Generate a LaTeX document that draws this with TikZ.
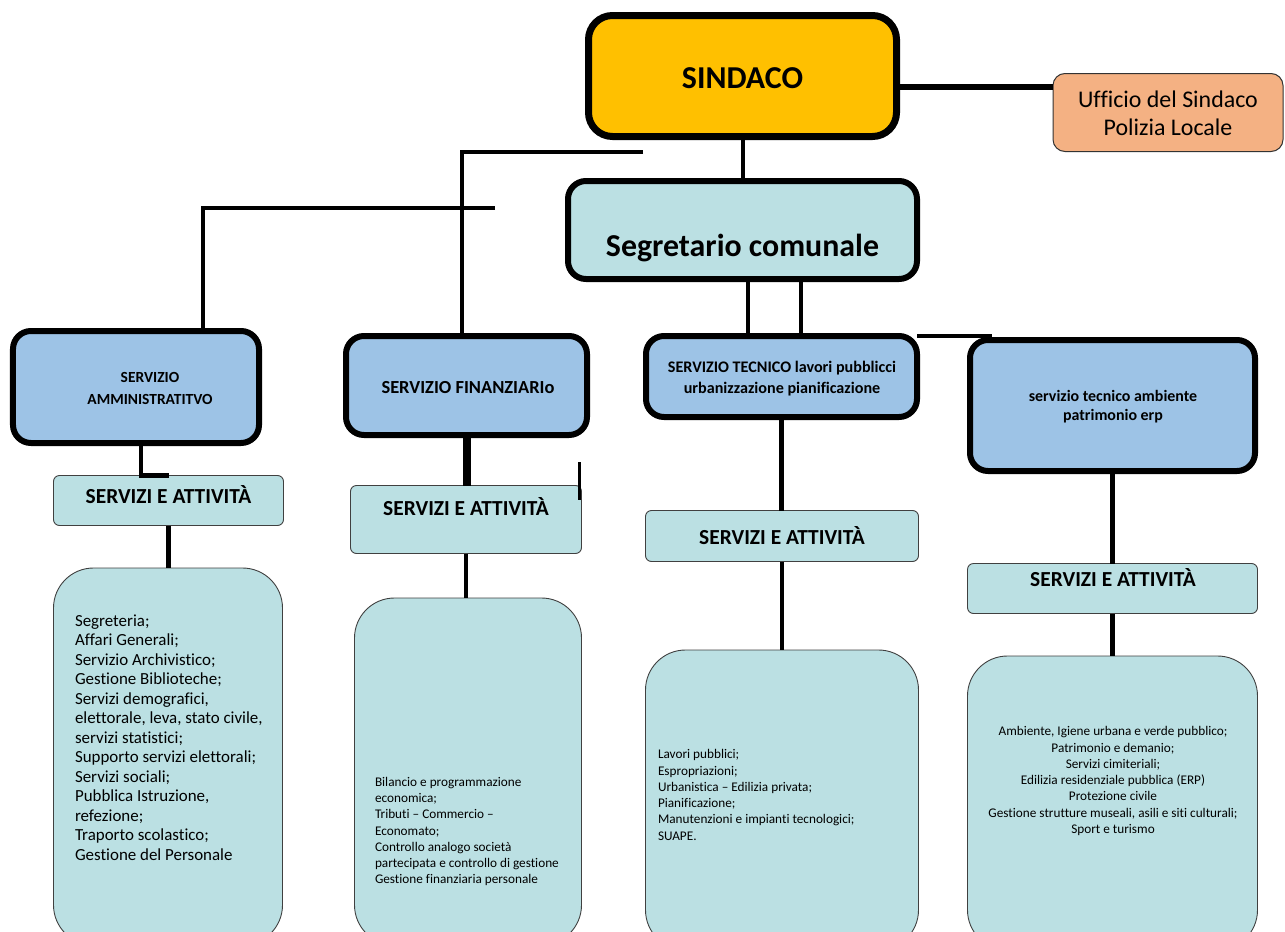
\documentclass[tikz,border=0pt]{standalone}
\usepackage{fontspec}
\setmainfont{Carlito}[Ligatures={NoCommon}]
\usetikzlibrary{calc}
\definecolor{gold}{HTML}{FFC000}
\definecolor{peach}{HTML}{F4B183}
\definecolor{paleteal}{HTML}{BBE0E3}
\definecolor{paleblue}{HTML}{9DC3E6}
\begin{document}
\begin{tikzpicture}[x=1bp,y=-1bp,
  every node/.style={inner sep=0pt,outer sep=0pt},
  heavybox/.style={draw=black,line width=6bp,rounded corners=18bp,fill=paleblue},
  topbox/.style={draw=black,line width=7bp,rounded corners=24bp,fill=gold},
  secbox/.style={draw=black,line width=6bp,rounded corners=18bp,fill=paleteal},
  peachbox/.style={draw=black!80,line width=1bp,rounded corners=12bp,fill=peach},
  seabox/.style={draw=black!75,line width=0.9bp,rounded corners=6bp,fill=paleteal},
  listbox/.style={draw=black!75,line width=0.9bp,rounded corners=40bp,fill=paleteal},
  link/.style={draw=black,line width=4.5bp},
  seatext/.style={font=\bfseries\fontsize{21.5}{25}\selectfont},
  unittext/.style={font=\bfseries\fontsize{15.5}{23}\selectfont,align=center},
  smallunit/.style={font=\bfseries\fontsize{16.2}{21}\selectfont,align=center},
  listtext/.style={font=\fontsize{13.3}{16.3}\selectfont}
]
\useasboundingbox (0,0) rectangle (1285,932);
\clip (0,0) rectangle (1285,932);

% main boxes
\node[topbox,minimum width=308bp,minimum height=121bp] (sindaco) at (742.5,76) {};
\node[font=\bfseries\fontsize{32}{36}\selectfont] (tsindaco) at (742.5,78) {SINDACO};

\node[peachbox,minimum width=230bp,minimum height=78bp] (ufficio) at (1168,112.5) {};
\node[font=\fontsize{24}{28}\selectfont,align=center] (tufficio) at (1168,113) {Ufficio del Sindaco\\Polizia Locale};

\node[secbox,minimum width=349bp,minimum height=98bp] (segretario) at (742.5,230) {};
\node[font=\bfseries\fontsize{32}{36}\selectfont] (tsegretario) at (742.5,248) {Segretario comunale};

% service boxes
\node[heavybox,minimum width=246bp,minimum height=112bp] (admin) at (136,387) {};
\node[unittext] (tadmin) at (150,388.5) {SERVIZIO\\AMMINISTRATITVO};

\node[heavybox,minimum width=241bp,minimum height=99bp] (finanz) at (466.5,385.5) {};
\node[unittext,font=\bfseries\fontsize{18.5}{22}\selectfont] (tfinanz) at (468,388) {SERVIZIO FINANZIARIo};

\node[heavybox,minimum width=271bp,minimum height=81bp] (tecnico) at (781.5,376.5) {};
\node[smallunit] (ttecnico) at (782,378.5) {SERVIZIO TECNICO lavori pubblicci\\urbanizzazione pianificazione};

\node[heavybox,minimum width=285bp,minimum height=131bp] (ambiente) at (1112.5,405.5) {};
\node[smallunit,font=\bfseries\fontsize{16}{19.5}\selectfont] (tambiente) at (1113,406.5) {servizio tecnico ambiente\\patrimonio erp};

% servizi e attivita boxes
\node[seabox,minimum width=230bp,minimum height=50bp] (sea1) at (168.5,500.5) {};
\node[seatext] (tsea1) at (168.5,495) {SERVIZI E ATTIVITÀ};
\node[seabox,minimum width=231bp,minimum height=68bp] (sea2) at (466,519.5) {};
\node[seatext] (tsea2) at (466,507) {SERVIZI E ATTIVITÀ};
\node[seabox,minimum width=273bp,minimum height=51bp] (sea3) at (782,536) {};
\node[seatext] (tsea3) at (782,536) {SERVIZI E ATTIVITÀ};
\node[seabox,minimum width=290bp,minimum height=50bp] (sea4) at (1112.5,588.5) {};
\node[seatext] (tsea4) at (1113,578) {SERVIZI E ATTIVITÀ};

% list boxes
\node[listbox,minimum width=229bp,minimum height=377bp] (list1) at (168,756.5) {};
\node[font=\fontsize{17}{19.6}\selectfont,align=left,anchor=west] (tlist1) at (75,737.5) {Segreteria;\\Affari Generali;\\Servizio Archivistico;\\Gestione Biblioteche;\\Servizi demografici,\\elettorale, leva, stato civile,\\servizi statistici;\\Supporto servizi elettorali;\\Servizi sociali;\\Pubblica Istruzione,\\refezione;\\Traporto scolastico;\\Gestione del Personale};

\node[listbox,minimum width=227bp,minimum height=347bp] (list2) at (468,771.5) {};
\node[listtext,align=left,anchor=west] (tlist2) at (375,831.5) {Bilancio e programmazione\\economica;\\Tributi – Commercio –\\Economato;\\Controllo analogo società\\partecipata e controllo di gestione\\Gestione finanziaria personale};

\node[listbox,minimum width=273bp,minimum height=300bp] (list3) at (782,800) {};
\node[listtext,align=left,anchor=west] (tlist3) at (658,795) {Lavori pubblici;\\Espropriazioni;\\Urbanistica – Edilizia privata;\\Pianificazione;\\Manutenzioni e impianti tecnologici;\\SUAPE.};

\node[listbox,minimum width=290bp,minimum height=294bp] (list4) at (1112.5,803) {};
\node[listtext,align=center] (tlist4) at (1113,781) {Ambiente, Igiene urbana e verde pubblico;\\Patrimonio e demanio;\\Servizi cimiteriali;\\Edilizia residenziale pubblica (ERP)\\Protezione civile\\Gestione strutture museali, asili e siti culturali;\\Sport e turismo};

% helper coordinates
\coordinate (fa) at (643,152);
\coordinate (fax) at (462,0);
\coordinate (fc) at (495,208);
\coordinate (fcx) at (203,0);
\coordinate (x1) at (748,0);
\coordinate (x2) at (801,0);
\coordinate (xr) at (992,0);
\coordinate (xadm) at (141,0);
\coordinate (s1) at (579,462);
\coordinate (s2) at (579,500);
\coordinate (k1) at ($(sindaco.east)+(0,11)$);

% connectors
\draw[link,line width=6bp] (k1) -- (k1 -| ufficio.west);
\draw[link,line width=4bp] (sindaco.south) -- (segretario.north);
\draw[link] (fa) -| (fax |- finanz.north);
\draw[link] (fc) -| (fcx |- admin.north);
\draw[link] (x1 |- segretario.south) -- (x1 |- tecnico.north);
\draw[link] (x2 |- segretario.south) -- (x2 |- tecnico.north);
\draw[link,line width=4bp] (tecnico.north east) -- (xr |- tecnico.north east);
\draw[link] (xadm |- admin.south) |- (sea1.north);
\draw[link] (sea1.south) -- (sea1.south |- list1.north);
\draw[link,line width=8bp] (finanz.south) -- (finanz.south |- sea2.north);
\draw[link,line width=3bp] (s1) -- (s2);
\draw[link] (sea2.south) -- (sea2.south |- list2.north);
\draw[link] (tecnico.south) -- (tecnico.south |- sea3.north);
\draw[link] (sea3.south) -- (sea3.south |- list3.north);
\draw[link] (ambiente.south) -- (ambiente.south |- sea4.north);
\draw[link] (sea4.south) -- (sea4.south |- list4.north);
\end{tikzpicture}
\end{document}
